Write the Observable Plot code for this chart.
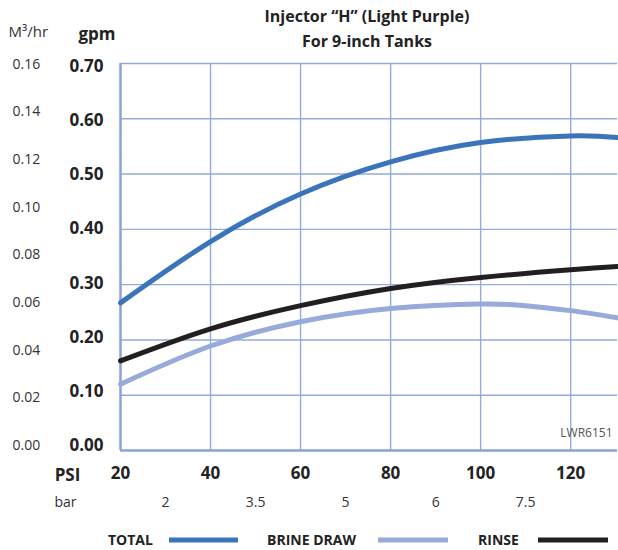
<!DOCTYPE html>
<html>
<head>
<meta charset="utf-8">
<script src="https://cdn.jsdelivr.net/npm/d3@7"></script>
<script src="https://cdn.jsdelivr.net/npm/@observablehq/plot@0.6"></script>
<style>
  html, body { margin: 0; padding: 0; background: #fff; }
  #chart svg { display: block; }
</style>
</head>
<body>
<div id="chart"></div>
<script>
// ---- data ----
const psi = [20, 40, 60, 80, 100, 120, 130.4];
const total = [0.267, 0.378, 0.464, 0.522, 0.557, 0.569, 0.566];
const rinse = [0.162, 0.220, 0.262, 0.293, 0.313, 0.327, 0.333];
const brinePsi = [20, 40, 60, 80, 100, 110, 120, 130.4];
const brine = [0.120, 0.189, 0.233, 0.257, 0.265, 0.262, 0.253, 0.240];

const gpmTicks = [0, 0.1, 0.2, 0.3, 0.4, 0.5, 0.6, 0.7];
const m3Ticks = [0, 0.02, 0.04, 0.06, 0.08, 0.10, 0.12, 0.14, 0.16];
const psiTicks = [20, 40, 60, 80, 100, 120];
const barLabels = ["2", "3.5", "5", "6", "7.5"];
const barPsi = [30, 50, 70, 90, 110];

const seriesNames = ["TOTAL", "BRINE DRAW", "RINSE"];
const seriesColors = ["#3b74bb", "#97aada", "#231f20"];

const rows = [
  ...psi.map((p, i) => ({psi: p, v: total[i], s: "TOTAL"})),
  ...brinePsi.map((p, i) => ({psi: p, v: brine[i], s: "BRINE DRAW"})),
  ...psi.map((p, i) => ({psi: p, v: rinse[i], s: "RINSE"}))
];

const gridColor = "#93aadb";
const font = "'Open Sans', sans-serif";
const mid = {lineAnchor: "middle"};

const chart = Plot.plot({
  width: 618,
  height: 550,
  marginLeft: 120,
  marginRight: 1,
  marginTop: 63,
  marginBottom: 100,
  style: {fontFamily: font, fontSize: "14px", color: "#222", background: "#fff"},
  x: {domain: [20, 130.4], axis: null},
  y: {domain: [0, 0.7], axis: null},
  color: {domain: seriesNames, range: seriesColors},
  marks: [
    Plot.ruleX(psiTicks.slice(1), {stroke: gridColor, strokeWidth: 1.4}),
    Plot.ruleY(gpmTicks.slice(1), {stroke: gridColor, strokeWidth: 1.4}),
    Plot.ruleX([20], {stroke: "#8aa2d8", strokeWidth: 2.5}),
    Plot.ruleY([0], {stroke: "#8aa2d8", strokeWidth: 2.5}),
    Plot.line(rows, {x: "psi", y: "v", z: "s", stroke: "s", strokeWidth: 5, curve: "natural"}),
    // gpm tick labels
    Plot.text(gpmTicks, {...mid, y: d => 0.00909 + d * 0.979, frameAnchor: "left", dx: -17, textAnchor: "end",
      text: d => d.toFixed(2), fontWeight: 700, fontSize: 17, fill: "#222"}),
    // m3/hr tick labels
    Plot.text(m3Ticks, {...mid, y: d => 0.00909 + d * 4.309, frameAnchor: "left", dx: -108, textAnchor: "start",
      text: d => d.toFixed(2), fontSize: 14, fill: "#333"}),
    // PSI tick labels
    Plot.text(psiTicks, {...mid, x: d => d, frameAnchor: "bottom", dy: 23, text: d => String(d),
      fontWeight: 700, fontSize: 17, fill: "#222"}),
    // bar labels
    Plot.text(barLabels, {...mid, x: (d, i) => barPsi[i], frameAnchor: "bottom", dy: 52, text: d => d,
      fontSize: 14, fill: "#333"}),
    Plot.text(["PSI"], {...mid, frameAnchor: "bottom-left", dx: -53, dy: 25, textAnchor: "middle", fontWeight: 700, fontSize: 17, fill: "#222"}),
    Plot.text(["bar"], {...mid, frameAnchor: "bottom-left", dx: -55, dy: 52, textAnchor: "middle", fontSize: 14, fill: "#333"}),
    Plot.text(["M³/hr"], {...mid, frameAnchor: "top-left", dx: -112, dy: -31, textAnchor: "start", fontSize: 15, fill: "#333"}),
    Plot.text(["gpm"], {...mid, frameAnchor: "top-left", dx: -42, dy: -29, textAnchor: "start", fontWeight: 700, fontSize: 17, fill: "#222"}),
    Plot.text(["Injector \u201CH\u201D (Light Purple)"], {...mid, frameAnchor: "top", dx: -2, dy: -47, fontWeight: 700, fontSize: 16, fill: "#222"}),
    Plot.text(["For 9-inch Tanks"], {...mid, frameAnchor: "top", dx: -2, dy: -22, fontWeight: 700, fontSize: 16, fill: "#222"}),
    Plot.text(["LWR6151"], {...mid, frameAnchor: "bottom-right", dx: -5, dy: -17, textAnchor: "end", fontSize: 12, fill: "#555"})
  ]
});

// legend drawn into the same svg
const svg = d3.select(chart);
const leg = svg.append("g").attr("font-family", font).attr("font-size", 14).attr("font-weight", 700)
  .attr("text-anchor", "start");
const legText = [108, 267, 478];
const legLine = [[169, 238], [378, 448], [538, 608]];
seriesNames.forEach((name, i) => {
  leg.append("text").attr("x", legText[i]).attr("y", 540).attr("dy", "0.35em").attr("fill", "#222").text(name);
  leg.append("line").attr("x1", legLine[i][0]).attr("x2", legLine[i][1]).attr("y1", 540).attr("y2", 540)
    .attr("stroke", seriesColors[i]).attr("stroke-width", 5);
});

document.getElementById("chart").append(chart);
</script>
</body>
</html>
